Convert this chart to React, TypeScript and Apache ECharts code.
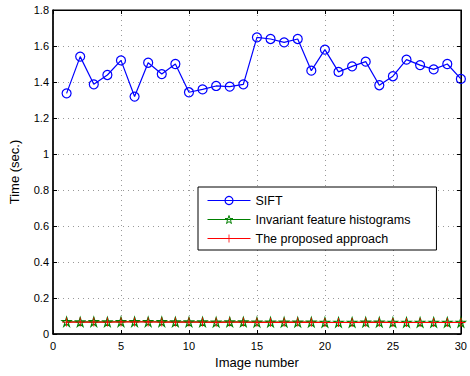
import React, { useEffect, useRef } from "react";
import * as echarts from "echarts";

const imageNumbers = [1,2,3,4,5,6,7,8,9,10,11,12,13,14,15,16,17,18,19,20,21,22,23,24,25,26,27,28,29,30];
const siftTimes = [1.337,1.541,1.387,1.439,1.520,1.319,1.507,1.444,1.500,1.343,1.359,1.378,1.374,1.387,1.648,1.639,1.620,1.639,1.463,1.580,1.456,1.487,1.513,1.382,1.432,1.524,1.494,1.470,1.500,1.417];
const histogramTimes = [0.068,0.067,0.068,0.067,0.068,0.068,0.068,0.068,0.067,0.067,0.067,0.066,0.067,0.067,0.066,0.066,0.066,0.066,0.066,0.065,0.065,0.065,0.066,0.066,0.065,0.065,0.065,0.065,0.065,0.065];
const proposedTimes = [0.066,0.066,0.066,0.066,0.067,0.067,0.067,0.066,0.066,0.066,0.066,0.065,0.066,0.066,0.065,0.065,0.065,0.066,0.065,0.064,0.064,0.064,0.065,0.065,0.064,0.064,0.064,0.064,0.064,0.064];
const seriesNames = ["SIFT", "Invariant feature histograms", "The proposed approach"];

const STAR = "path://M50,0 L61.8,36.3 L100,36.3 L69.1,58.8 L80.9,95.1 L50,72.6 L19.1,95.1 L30.9,58.8 L0,36.3 L38.2,36.3 Z";
const PLUS = "path://M45,0 H55 V45 H100 V55 H55 V100 H45 V55 H0 V45 H45 Z";

const FONT = "Liberation Sans, Arial, sans-serif";

export default function App() {
  const ref = useRef<HTMLDivElement>(null);
  useEffect(() => {
    if (!ref.current) return;
    const chart = echarts.init(ref.current, undefined, { renderer: "svg" });
    const pair = (ys: number[]) => imageNumbers.map((x, i) => [x, ys[i]]);
    const grid = { left: 52, top: 10, right: 7, bottom: 42, show: true, borderColor: "#000", borderWidth: 1 };
    const splitLine = { show: true, lineStyle: { color: "#999", type: [1, 4] as any, width: 1 } };
    chart.setOption({
      animation: false,
      backgroundColor: "#fff",
      textStyle: { fontFamily: FONT },
      grid,
      legend: {
        orient: "vertical",
        left: 198,
        top: 187,
        padding: [7, 26, 5, 9],
        itemWidth: 43,
        itemHeight: 10,
        itemGap: 6,
        borderColor: "#000",
        borderWidth: 1,
        backgroundColor: "#fff",
        textStyle: { fontFamily: FONT, fontSize: 12.5, color: "#000" },
        lineStyle: { width: 1 },
        data: [
          { name: seriesNames[0], itemStyle: { color: "rgba(255,255,255,0)", borderColor: "#0000ff", borderWidth: 1.2 } },
          { name: seriesNames[1], itemStyle: { color: "rgba(255,255,255,0)", borderColor: "#008000", borderWidth: 1 } },
          { name: seriesNames[2], itemStyle: { color: "#ff0000", borderWidth: 0 } },
        ],
      },
      xAxis: [
        {
          type: "value",
          min: 0,
          max: 30,
          interval: 5,
          name: "Image number",
          nameLocation: "middle",
          nameGap: 22,
          nameTextStyle: { fontFamily: FONT, fontSize: 13, color: "#000" },
          axisLine: { show: true, onZero: false, lineStyle: { color: "#000", width: 1.5 } },
          axisTick: { show: true, inside: true, length: 4, lineStyle: { color: "#000" } },
          axisLabel: { fontFamily: FONT, fontSize: 11, color: "#000", margin: 6 },
          splitLine,
        },
        {
          type: "value",
          position: "top",
          min: 0,
          max: 30,
          interval: 5,
          axisLine: { show: true, onZero: false, lineStyle: { color: "#000", width: 1 } },
          axisTick: { show: true, inside: true, length: 4, lineStyle: { color: "#000" } },
          axisLabel: { show: false },
          splitLine: { show: false },
        },
      ],
      yAxis: [
        {
          type: "value",
          min: 0,
          max: 1.8,
          interval: 0.2,
          name: "Time (sec.)",
          nameLocation: "middle",
          nameGap: 32,
          nameTextStyle: { fontFamily: FONT, fontSize: 13, color: "#000" },
          axisLine: { show: true, onZero: false, lineStyle: { color: "#000", width: 1.5 } },
          axisTick: { show: true, inside: true, length: 4, lineStyle: { color: "#000" } },
          axisLabel: {
            fontFamily: FONT,
            fontSize: 11,
            color: "#000",
            margin: 4,
            formatter: (v: number) => String(Math.round(v * 10) / 10),
          },
          splitLine,
        },
        {
          type: "value",
          position: "right",
          min: 0,
          max: 1.8,
          interval: 0.2,
          axisLine: { show: true, onZero: false, lineStyle: { color: "#000", width: 1 } },
          axisTick: { show: true, inside: true, length: 4, lineStyle: { color: "#000" } },
          axisLabel: { show: false },
          splitLine: { show: false },
        },
      ],
      series: [
        {
          name: seriesNames[0],
          type: "line",
          data: pair(siftTimes),
          color: "#0000ff",
          lineStyle: { color: "#0000ff", width: 1.2 },
          symbol: "circle",
          symbolSize: 9,
          showAllSymbol: true,
          itemStyle: { color: "rgba(255,255,255,0)", borderColor: "#0000ff", borderWidth: 1.2 },
        },
        {
          name: seriesNames[1],
          type: "line",
          data: pair(histogramTimes),
          color: "#008000",
          lineStyle: { color: "#008000", width: 1.2 },
          symbol: STAR,
          symbolSize: 9,
          showAllSymbol: true,
          itemStyle: { color: "rgba(255,255,255,0)", borderColor: "#008000", borderWidth: 1.2 },
        },
        {
          name: seriesNames[2],
          type: "line",
          data: pair(proposedTimes),
          color: "#ff0000",
          lineStyle: { color: "#ff0000", width: 1.2 },
          symbol: PLUS,
          symbolSize: 9,
          showAllSymbol: true,
          itemStyle: { color: "#ff0000", borderWidth: 0 },
        },
      ],
    });
    return () => chart.dispose();
  }, []);
  return <div ref={ref} style={{ width: 470, height: 376, position: "absolute", left: 0, top: 0 }} />;
}
